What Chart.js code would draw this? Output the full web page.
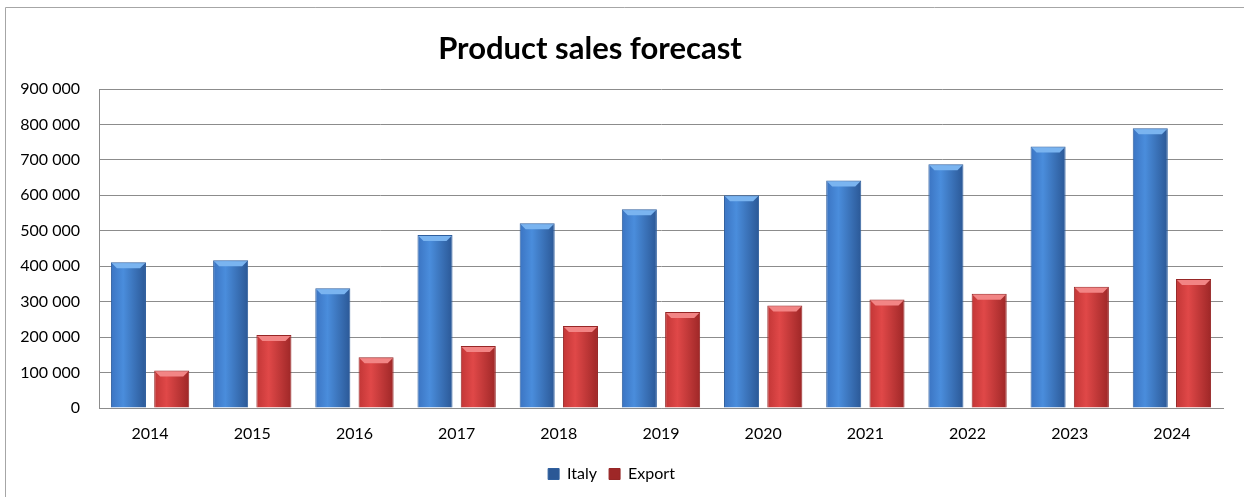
<!DOCTYPE html>
<html>
<head>
<meta charset="utf-8">
<script src="https://cdn.jsdelivr.net/npm/chart.js@4"></script>
<style>
  html, body { margin: 0; padding: 0; background: #fff; }
  #wrap { width: 1244px; height: 497px; position: relative; }
</style>
</head>
<body>
<div id="wrap"><canvas id="salesChart" width="1244" height="497"></canvas></div>
<script>
// Product sales forecast - grouped bars
const years = ['2014', '2015', '2016', '2017', '2018', '2019', '2020', '2021', '2022', '2023', '2024'];
const italySales = [411000, 417000, 338000, 488000, 521000, 561000, 600000, 642000, 688000, 738000, 789000];
const exportSales = [106000, 206000, 143000, 175000, 231000, 271000, 289000, 306000, 322000, 342000, 364000];
const yMax = 900000;
const yStep = 100000;

const CAT_PCT = 0.847;
const BAR_PCT = 0.81;

const blue = { edge: '#3b74c2', light: '#4a8ddc', dark: '#2b5896', mid: '#3d7acb', top: '#7ab4f0', border: '#2f5f9e' };
const red = { edge: '#c23636', light: '#e04848', dark: '#9e2727', mid: '#cc3b3b', top: '#f28585', border: '#962626' };

function fmt(v) {
    return String(v).replace(/\B(?=(\d{3})+(?!\d))/g, ' ');
}

// horizontal shading for each bar, worked out from the x scale
function barFill(c) {
    return (ctx) => {
        const chart = ctx.chart;
        const xs = chart.scales.x;
        if (ctx.type !== 'data' || !xs || !chart.chartArea) return c.mid;
        const cat = xs.width / years.length;
        const slot = cat * CAT_PCT / 2;
        const cx = xs.getPixelForValue(ctx.dataIndex) + (ctx.datasetIndex === 0 ? -slot / 2 : slot / 2);
        const w = slot * BAR_PCT;
        const g = chart.ctx.createLinearGradient(cx - w / 2, 0, cx + w / 2, 0);
        g.addColorStop(0, c.edge);
        g.addColorStop(0.35, c.light);
        g.addColorStop(1, c.dark);
        return g;
    };
}

const frame = {
    id: 'frame',
    beforeDraw(chart) {
        const ctx = chart.ctx;
        ctx.save();
        ctx.strokeStyle = '#a6a6a6';
        ctx.lineWidth = 1;
        ctx.beginPath();
        ctx.moveTo(5.5, 497);
        ctx.lineTo(5.5, 7.5);
        ctx.lineTo(1244, 7.5);
        ctx.stroke();
        ctx.restore();
    },
    afterDraw(chart) {
        const ctx = chart.ctx;
        ctx.save();
        ctx.font = 'bold 31px Lato';
        ctx.fillStyle = '#000';
        ctx.textAlign = 'center';
        ctx.textBaseline = 'middle';
        ctx.fillText('Product sales forecast', 590, 49);
        ctx.restore();
    }
};

// small lighter bevel on top of each bar
const bevel = {
    id: 'bevel',
    afterDatasetsDraw(chart) {
        const ctx = chart.ctx;
        [blue, red].forEach((c, di) => {
            chart.getDatasetMeta(di).data.forEach((el) => {
                const p = el.getProps(['x', 'y', 'width'], true);
                const l = p.x - p.width / 2 + 1, r = p.x + p.width / 2 - 1;
                ctx.save();
                ctx.fillStyle = c.top;
                ctx.beginPath();
                ctx.moveTo(l, p.y + 1);
                ctx.lineTo(r, p.y + 1);
                ctx.lineTo(r - 5, p.y + 6);
                ctx.lineTo(l + 5, p.y + 6);
                ctx.closePath();
                ctx.fill();
                ctx.restore();
            });
        });
    }
};

const salesCtx = document.getElementById('salesChart').getContext('2d');
const salesChart = new Chart(salesCtx, {
    type: 'bar',
    data: {
        labels: years,
        datasets: [{
            label: 'Italy',
            data: italySales,
            backgroundColor: barFill(blue),
            borderColor: blue.border,
            borderWidth: 1,
            categoryPercentage: CAT_PCT,
            barPercentage: BAR_PCT
        }, {
            label: 'Export',
            data: exportSales,
            backgroundColor: barFill(red),
            borderColor: red.border,
            borderWidth: 1,
            categoryPercentage: CAT_PCT,
            barPercentage: BAR_PCT
        }]
    },
    options: {
        responsive: false,
        animation: false,
        layout: { padding: { top: 89, right: 21, bottom: 5, left: 0 } },
        plugins: {
            title: { display: false },
            tooltip: { enabled: false },
            legend: {
                position: 'bottom',
                labels: {
                    boxWidth: 11,
                    boxHeight: 11,
                    padding: 12,
                    color: '#000',
                    font: { family: 'Lato', size: 16 }
                }
            }
        },
        scales: {
            x: {
                grid: { display: false, drawTicks: false },
                border: { color: '#8c8c8c' },
                ticks: { color: '#000', padding: 16, font: { family: 'Lato', size: 16 } },
                afterFit: (s) => { s.height = 46; }
            },
            y: {
                min: 0,
                max: yMax,
                grid: { color: '#8c8c8c', drawTicks: false },
                border: { color: '#8c8c8c' },
                ticks: {
                    stepSize: yStep,
                    color: '#000',
                    padding: 19,
                    font: { family: 'Lato', size: 16 },
                    callback: (v) => fmt(v)
                },
                afterFit: (s) => { s.width = 99; }
            }
        }
    },
    plugins: [frame, bevel]
});
</script>
</body>
</html>
